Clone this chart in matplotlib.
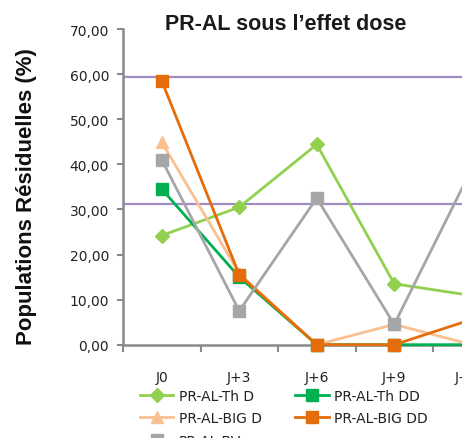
import numpy as np
import matplotlib
matplotlib.use("Agg")
import matplotlib.pyplot as plt
from matplotlib.ticker import FuncFormatter

# data
days = ["J0", "J+3", "J+6", "J+9", "J+12"]
th_d = [24.2, 30.5, 44.4, 13.5, 10.9]
th_dd = [34.5, 15.0, 0.0, 0.0, 0.0]
big_d = [44.9, 15.8, 0.0, 4.5, 0.0]
big_dd = [58.5, 15.5, 0.0, 0.0, 5.6]
bv = [41.0, 7.5, 32.5, 4.5, 39.0]
ref_levels = [59.3, 31.2]

series = [
    ("PR-AL-Th D", th_d, "#92D050", "D", 7),
    ("PR-AL-Th DD", th_dd, "#00B050", "s", 9),
    ("PR-AL-BIG D", big_d, "#FAC090", "^", 9),
    ("PR-AL-BIG DD", big_dd, "#E46C0A", "s", 9),
    ("PR-AL-BV", bv, "#A6A6A6", "s", 8),
]

W, H = 462, 439
fig = plt.figure(figsize=(W / 100, H / 100), dpi=100)
fig.patch.set_facecolor("white")

# plot area runs past the right edge, like the cropped original
left, bottom_px, top_px, cat_w = 123, 345.7, 30, 77.5
ax = fig.add_axes([left / W, 1 - bottom_px / H,
                   cat_w * len(days) / W, (bottom_px - top_px) / H])

x = np.arange(len(days))
for lvl in ref_levels:
    ax.axhline(lvl, color="#9F8BC6", lw=1.6, zorder=2)

handles = {}
for name, vals, col, mk, ms in series:
    h, = ax.plot(x, vals, color=col, lw=2.0, marker=mk, markersize=ms,
                 markeredgecolor=col, markerfacecolor=col, zorder=3,
                 clip_on=False, label=name)
    handles[name] = h

ax.set_xlim(-0.5, len(days) - 0.5)
ax.set_ylim(0, 70)
ax.set_yticks(np.arange(0, 71, 10))
ax.yaxis.set_major_formatter(FuncFormatter(lambda v, p: f"{v:.2f}".replace(".", ",")))

ax.set_xticks(x)
ax.set_xticklabels(days)
ax.set_xticks(np.arange(-0.5, len(days), 1), minor=True)
ax.tick_params(axis="x", which="major", length=0, pad=18,
               labelsize=10, labelcolor="#222222")
ax.tick_params(axis="x", which="minor", length=5, width=1.5,
               color="#898989", direction="out")
ax.tick_params(axis="y", length=4, width=1.5, color="#898989",
               direction="out", pad=6, labelsize=10, labelcolor="#222222")

for s in ["top", "right"]:
    ax.spines[s].set_visible(False)
for s in ["left", "bottom"]:
    ax.spines[s].set_color("#898989")
    ax.spines[s].set_linewidth(1.8)

fig.text(286 / W, 1 - 25 / H, "PR-AL sous l\u2019effet dose", ha="center",
         va="center", fontsize=15.5, fontweight="bold",
         family="Liberation Sans", color="#1a1a1a")
fig.text(27 / W, 1 - 197 / H, "Populations Résiduelles (%)", ha="center",
         va="center", rotation=90, fontsize=16, fontweight="bold",
         family="Liberation Sans", color="#111111")

order = ["PR-AL-Th D", "PR-AL-BIG D", "PR-AL-BV", "PR-AL-Th DD", "PR-AL-BIG DD"]
fig.legend([handles[n] for n in order], order, ncol=2, frameon=False,
           loc="upper left", bbox_to_anchor=(140 / W, 1 - 390 / H),
           borderaxespad=0, borderpad=0, fontsize=10, handlelength=2.4,
           handletextpad=0.4, columnspacing=2.4, labelspacing=0.6,
           labelcolor="#222222")

fig.savefig("out.png", dpi=100)
